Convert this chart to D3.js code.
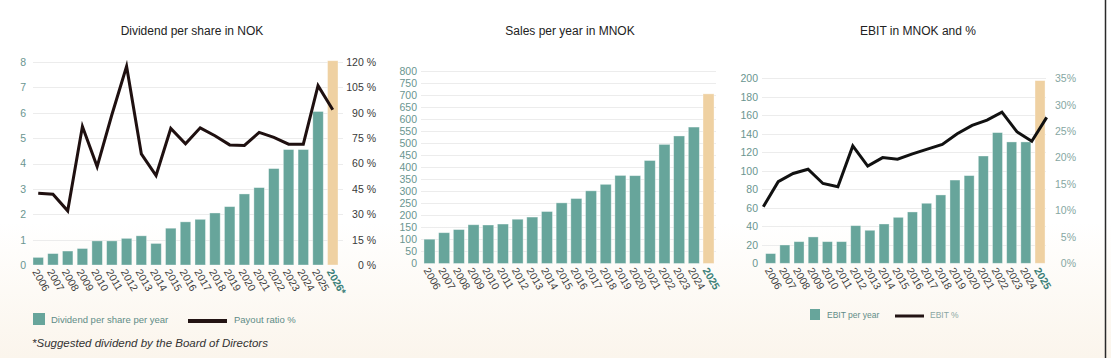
<!DOCTYPE html>
<html>
<head>
<meta charset="utf-8">
<script src="https://cdn.jsdelivr.net/npm/d3@7/dist/d3.min.js"></script>
<style>
  html, body { margin: 0; padding: 0; background: #fff; }
  svg { display: block; }
  text { font-family: "Liberation Sans", Arial, sans-serif; }
</style>
</head>
<body>
<svg id="chart" width="1111" height="358"></svg>
<script>
// ---------- DATA ----------
const divYears = ["2006","2007","2008","2009","2010","2011","2012","2013","2014","2015","2016","2017","2018","2019","2020","2021","2022","2023","2024","2025","2026*"];
const dividend = [0.3,0.45,0.55,0.65,0.95,0.95,1.05,1.15,0.85,1.45,1.7,1.8,2.05,2.3,2.8,3.05,3.8,4.55,4.55,6.05,8.05];
const payout   = [42.4,41.8,32,81.9,58.2,88.8,117.4,65.7,52.9,80.7,71.6,81.1,76.4,71,70.7,78.4,75.4,71.4,71.4,106,91.8];
const divTicks = [0,1,2,3,4,5,6,7,8];
const payoutTicks = [0,15,30,45,60,75,90,105,120];

const salesYears = ["2006","2007","2008","2009","2010","2011","2012","2013","2014","2015","2016","2017","2018","2019","2020","2021","2022","2023","2024","2025"];
const sales = [101,128,141,161,160,164,184,193,216,252,270,302,329,366,365,428,495,530,567,705];
const salesTicks = [0,50,100,150,200,250,300,350,400,450,500,550,600,650,700,750,800];

const ebitYears = ["2006","2007","2008","2009","2010","2011","2012","2013","2014","2015","2016","2017","2018","2019","2020","2021","2022","2023","2024","2025"];
const ebit    = [10.5,19.8,23.4,28.5,23.4,23.4,40.7,35.7,42.5,49.7,55.5,64.9,73.9,90,94.8,116,141.3,131.2,131.2,197.5];
const ebitPct = [10.7,15.45,17.0,17.8,15.1,14.5,22.2,18.4,20.0,19.7,20.7,21.6,22.5,24.5,26.1,27.1,28.6,24.9,23.1,27.6];
const ebitTicks = [0,20,40,60,80,100,120,140,160,180,200];
const ebitPctTicks = [0,5,10,15,20,25,30,35];

// ---------- STYLE ----------
const TEAL = "#67a59b", BEIGE = "#efd1a2", GRID = "#ececec";
const LEFT_LBL = "#6a9590", XLBL = "#3c3c3c", LAST_LBL = "#3b7f78";

const svg = d3.select("#chart");
const defs = svg.append("defs");
const grad = defs.append("linearGradient").attr("id","bg").attr("x1",0).attr("y1",0).attr("x2",0).attr("y2",1);
grad.append("stop").attr("offset","0%").attr("stop-color","#ffffff");
grad.append("stop").attr("offset","62%").attr("stop-color","#ffffff");
grad.append("stop").attr("offset","100%").attr("stop-color","#fbf5ec");
svg.append("rect").attr("width",1111).attr("height",358).attr("fill","url(#bg)");
svg.append("line").attr("x1",1105.5).attr("x2",1105.5).attr("y1",0).attr("y2",358)
  .attr("stroke","#2a2a2a").attr("stroke-width",1.5);

function panel(o) {
  const g = svg.append("g");
  const x = d3.scaleBand().domain(o.cats).range(o.xRange).paddingInner(o.pad).paddingOuter(o.pad);
  const y = d3.scaleLinear().domain(o.yDomain).range([o.y0, o.y1]);

  // title
  g.append("text").attr("x", o.titleX).attr("y", 35).attr("text-anchor","middle")
    .attr("font-size", 12).attr("fill","#222").text(o.title);

  // grid
  g.append("g").selectAll("line").data(o.yTicks.slice(1)).join("line")
    .attr("x1", o.gridX[0]).attr("x2", o.gridX[1])
    .attr("y1", d => Math.round(y(d)) + 0.5).attr("y2", d => Math.round(y(d)) + 0.5)
    .attr("stroke", GRID).attr("stroke-width", 1);

  // left axis
  const la = d3.axisLeft(y).tickValues(o.yTicks).tickSize(0).tickPadding(0);
  const lg = g.append("g").attr("transform", `translate(${o.leftLblX},0)`).call(la);
  lg.select(".domain").remove();
  lg.selectAll("text").attr("font-size", 10.5).attr("fill", LEFT_LBL)
    .attr("font-family", "'Liberation Sans', Arial, sans-serif");

  // bars
  g.append("g").selectAll("rect").data(o.values).join("rect")
    .attr("x", (d,i) => x(o.cats[i]))
    .attr("width", x.bandwidth())
    .attr("y", d => y(d))
    .attr("height", d => y(0) - y(d))
    .attr("fill", (d,i) => i === o.values.length - 1 ? BEIGE : TEAL)
    .attr("stroke", "rgba(255,255,255,0.45)").attr("stroke-width", 0.8);

  // x labels
  g.append("g").selectAll("text").data(o.cats).join("text")
    .attr("transform", d => `translate(${x(d) + x.bandwidth()/2 - 3},${o.y0 + 5}) rotate(60)`)
    .attr("dy", "0.35em")
    .attr("font-size", 10.5)
    .attr("font-weight", (d,i) => i === o.cats.length - 1 ? "bold" : null)
    .attr("fill", (d,i) => i === o.cats.length - 1 ? LAST_LBL : XLBL)
    .text(d => d);

  // right axis + line
  if (o.line) {
    const y2 = d3.scaleLinear().domain(o.y2Domain).range([o.y0, o.y1]);
    const ra = d3.axisRight(y2).tickValues(o.y2Ticks).tickSize(0).tickPadding(0).tickFormat(o.y2Fmt);
    const rg = g.append("g").attr("transform", `translate(${o.rightLblX},0)`).call(ra);
    rg.select(".domain").remove();
    rg.selectAll("text").attr("font-size", 10.5).attr("fill", o.rightColor).attr("text-anchor","end")
      .attr("font-family", "'Liberation Sans', Arial, sans-serif");
    const lx = o.lineRange
      ? d3.scalePoint().domain(o.cats).range(o.lineRange).padding(0)
      : (d => x(d) + x.bandwidth()/2);
    const lineGen = d3.line().x((d,i) => lx(o.cats[i])).y(d => y2(d));
    g.append("path").datum(o.line).attr("d", lineGen)
      .attr("fill","none").attr("stroke", o.lineColor).attr("stroke-width", 3)
      .attr("stroke-linejoin","miter").attr("stroke-miterlimit", 10);
  }
}

panel({
  title: "Dividend per share in NOK", titleX: 192,
  cats: divYears, values: dividend, xRange: [28.75, 342.25], pad: 0.288,
  yDomain: [0, 8], y0: 265, y1: 62, yTicks: divTicks, gridX: [33, 343], leftLblX: 26,
  line: payout, y2Domain: [0,120], y2Ticks: payoutTicks, y2Fmt: d => d + " %",
  rightLblX: 376, rightColor: "#3a3a3a", lineColor: "#1f1010"
});

panel({
  title: "Sales per year in MNOK", titleX: 570,
  cats: salesYears, values: sales, xRange: [420.3, 717.7], pad: 0.25,
  yDomain: [0, 800], y0: 263.5, y1: 71, yTicks: salesTicks, gridX: [421, 716], leftLblX: 417
});

panel({
  title: "EBIT in MNOK and %", titleX: 918,
  cats: ebitYears, values: ebit, xRange: [761.5, 1049.2], pad: 0.294,
  yDomain: [0, 200], y0: 263.3, y1: 78.3, yTicks: ebitTicks, gridX: [762, 1046], leftLblX: 758,
  line: ebitPct, y2Domain: [0,35], y2Ticks: ebitPctTicks, y2Fmt: d => d + "%",
  rightLblX: 1076, rightColor: "#86a7a2", lineColor: "#111111", lineRange: [763.3, 1046.7]
});

// ---------- LEGENDS ----------
const leg = svg.append("g");
leg.append("rect").attr("x",33).attr("y",313).attr("width",12).attr("height",12).attr("fill",TEAL);
leg.append("text").attr("x",51).attr("y",322.5).attr("font-size",9.5).attr("fill","#5f8c87").text("Dividend per share per year");
leg.append("line").attr("x1",188).attr("x2",227).attr("y1",321).attr("y2",321).attr("stroke","#231414").attr("stroke-width",4);
leg.append("text").attr("x",234).attr("y",322.5).attr("font-size",9.5).attr("fill","#5f8c87").text("Payout ratio %");
leg.append("text").attr("x",32).attr("y",347).attr("font-size",11.5).attr("font-style","italic").attr("fill","#333")
  .text("*Suggested dividend by the Board of Directors");

leg.append("rect").attr("x",810).attr("y",309).attr("width",10).attr("height",11).attr("fill",TEAL);
leg.append("text").attr("x",827).attr("y",318).attr("font-size",8.5).attr("fill","#5f8c87").text("EBIT per year");
leg.append("line").attr("x1",895).attr("x2",924).attr("y1",316).attr("y2",316).attr("stroke","#231414").attr("stroke-width",3);
leg.append("text").attr("x",930).attr("y",318).attr("font-size",8.5).attr("fill","#8aa6a2").text("EBIT %");
</script>
</body>
</html>
